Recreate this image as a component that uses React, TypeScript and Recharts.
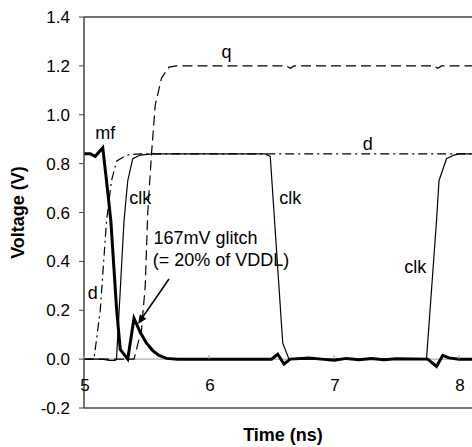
import {
  Line,
  LineChart,
  ReferenceDot,
  ReferenceLine,
  XAxis,
  YAxis,
} from "recharts";

const mf = [
  { t: 5.0, v: 0.84 }, { t: 5.05, v: 0.84 }, { t: 5.09, v: 0.83 }, { t: 5.15, v: 0.865 },
  { t: 5.18, v: 0.73 }, { t: 5.215, v: 0.565 }, { t: 5.26, v: 0.21 }, { t: 5.29, v: 0.04 },
  { t: 5.35, v: 0.0 }, { t: 5.4, v: 0.167 }, { t: 5.45, v: 0.11 }, { t: 5.5, v: 0.065 },
  { t: 5.55, v: 0.035 }, { t: 5.6, v: 0.015 }, { t: 5.66, v: 0.003 }, { t: 5.75, v: 0 },
  { t: 6.0, v: 0 }, { t: 6.3, v: 0 }, { t: 6.5, v: 0 }, { t: 6.55, v: 0.02 },
  { t: 6.6, v: -0.02 }, { t: 6.65, v: 0 }, { t: 6.8, v: 0.005 }, { t: 6.9, v: 0 },
  { t: 7.0, v: -0.005 }, { t: 7.1, v: 0.003 }, { t: 7.2, v: -0.003 }, { t: 7.3, v: 0.003 },
  { t: 7.4, v: -0.003 }, { t: 7.5, v: 0.002 }, { t: 7.75, v: 0 }, { t: 7.82, v: -0.03 },
  { t: 7.87, v: 0.015 }, { t: 7.92, v: 0.005 }, { t: 8.0, v: 0 }, { t: 8.11, v: 0 },
];

const clk = [
  { t: 5.0, v: 0 }, { t: 5.15, v: 0 }, { t: 5.2, v: -0.005 }, { t: 5.25, v: -0.005 },
  { t: 5.26, v: 0 }, { t: 5.32, v: 0.565 }, { t: 5.35, v: 0.73 }, { t: 5.39, v: 0.82 },
  { t: 5.45, v: 0.835 }, { t: 5.55, v: 0.84 }, { t: 6.45, v: 0.84 }, { t: 6.49, v: 0.83 },
  { t: 6.59, v: 0.065 }, { t: 6.64, v: 0 }, { t: 7.74, v: 0 }, { t: 7.82, v: 0.565 },
  { t: 7.84, v: 0.73 }, { t: 7.9, v: 0.82 }, { t: 7.96, v: 0.835 }, { t: 8.0, v: 0.84 },
  { t: 8.11, v: 0.84 },
];

const d = [
  { t: 5.0, v: 0 }, { t: 5.08, v: 0 }, { t: 5.13, v: 0.2 }, { t: 5.18, v: 0.565 },
  { t: 5.22, v: 0.73 }, { t: 5.26, v: 0.81 }, { t: 5.34, v: 0.835 }, { t: 5.45, v: 0.84 },
  { t: 8.11, v: 0.84 },
];

const q = [
  { t: 5.0, v: 0 }, { t: 5.4, v: 0 }, { t: 5.46, v: 0.12 }, { t: 5.49, v: 0.3 },
  { t: 5.51, v: 0.6 }, { t: 5.54, v: 0.84 }, { t: 5.57, v: 1.04 }, { t: 5.62, v: 1.15 },
  { t: 5.68, v: 1.195 }, { t: 5.74, v: 1.2 }, { t: 6.62, v: 1.2 }, { t: 6.65, v: 1.19 },
  { t: 6.68, v: 1.2 }, { t: 7.8, v: 1.2 }, { t: 7.83, v: 1.19 }, { t: 7.86, v: 1.2 },
  { t: 8.11, v: 1.2 },
];

const xTicks = [5, 6, 7, 8];
const yTicks = [-0.2, 0, 0.2, 0.4, 0.6, 0.8, 1.0, 1.2, 1.4];

const notes = [
  { t: 6.14, v: 1.26, text: "q" },
  { t: 5.17, v: 0.925, text: "mf" },
  { t: 7.27, v: 0.88, text: "d" },
  { t: 5.07, v: 0.27, text: "d" },
  { t: 5.45, v: 0.66, text: "clk" },
  { t: 6.65, v: 0.66, text: "clk" },
  { t: 7.65, v: 0.38, text: "clk" },
];

const glitch = [
  { t: 5.555, v: 0.497, text: "167mV glitch" },
  { t: 5.55, v: 0.405, text: "(= 20% of VDDL)" },
];

const arrowFrom = { t: 5.68, v: 0.328 };
const arrowTo = { t: 5.432, v: 0.144 };

const font = "Liberation Sans, Arial, sans-serif";

function Arrow(props: any) {
  const { x1, y1, x2, y2 } = props;
  const ang = Math.atan2(y2 - y1, x2 - x1);
  const len = 9;
  const w = 4;
  const bx = x2 - len * Math.cos(ang);
  const by = y2 - len * Math.sin(ang);
  const px = -Math.sin(ang) * w;
  const py = Math.cos(ang) * w;
  return (
    <g>
      <line x1={x1} y1={y1} x2={bx} y2={by} stroke="#000" strokeWidth={1.5} />
      <polygon
        points={`${x2},${y2} ${bx + px},${by + py} ${bx - px},${by - py}`}
        fill="#000"
      />
    </g>
  );
}

export default function App() {
  return (
    <div style={{ position: "absolute", left: 0, top: 0, background: "#fff" }}>
      <LineChart
        width={472}
        height={447}
        margin={{ top: 17, right: 0, bottom: 0, left: 0 }}
      >
        <XAxis
          type="number"
          dataKey="t"
          domain={[5, 8.104]}
          allowDataOverflow
          tick={false}
          tickLine={false}
          height={39}
          axisLine={{ stroke: "#444", strokeWidth: 1.5 }}
          label={{
            value: "Time (ns)",
            position: "insideBottom",
            offset: 6,
            dx: 5,
            style: { fontFamily: font, fontSize: 18, fontWeight: "bold", fill: "#000" },
          }}
        />
        <YAxis
          type="number"
          domain={[-0.2, 1.4]}
          ticks={yTicks}
          width={84}
          tickSize={5}
          tickMargin={9}
          tickFormatter={(v: number) => v.toFixed(1)}
          tick={{ fontFamily: font, fontSize: 17, fill: "#000" }}
          tickLine={{ stroke: "#444" }}
          axisLine={{ stroke: "#444", strokeWidth: 1.5 }}
          label={{
            value: "Voltage (V)",
            angle: -90,
            position: "insideLeft",
            offset: 18,
            style: {
              fontFamily: font,
              fontSize: 18,
              fontWeight: "bold",
              fill: "#000",
              textAnchor: "middle",
            },
          }}
        />
        <ReferenceLine y={1.4} stroke="#444" strokeWidth={1.5} />
        <ReferenceLine y={0} stroke="#999" strokeWidth={1} />
        {xTicks.map((t) => (
          <ReferenceDot
            key={"xt" + t}
            x={t}
            y={0}
            r={0}
            shape={(p: any) => (
              <g>
                <line x1={p.cx} y1={p.cy} x2={p.cx} y2={p.cy - 4} stroke="#999" />
                <text
                  x={p.cx + 1}
                  y={p.cy + 32}
                  textAnchor="middle"
                  fontFamily={font}
                  fontSize={17}
                  fill="#000"
                >
                  {t}
                </text>
              </g>
            )}
          />
        ))}
        <Line
          data={q}
          dataKey="v"
          type="linear"
          stroke="#000"
          strokeWidth={1.2}
          strokeDasharray="10 5"
          dot={false}
          isAnimationActive={false}
        />
        <Line
          data={d}
          dataKey="v"
          type="linear"
          stroke="#000"
          strokeWidth={1.2}
          strokeDasharray="9 4 2 4"
          dot={false}
          isAnimationActive={false}
        />
        <Line
          data={clk}
          dataKey="v"
          type="linear"
          stroke="#000"
          strokeWidth={1.2}
          dot={false}
          isAnimationActive={false}
        />
        <Line
          data={mf}
          dataKey="v"
          type="linear"
          stroke="#000"
          strokeWidth={3}
          dot={false}
          isAnimationActive={false}
        />
        <ReferenceLine
          segment={[
            { x: arrowFrom.t, y: arrowFrom.v },
            { x: arrowTo.t, y: arrowTo.v },
          ]}
          shape={Arrow}
        />
        {notes.map((n, i) => (
          <ReferenceDot
            key={"n" + i}
            x={n.t}
            y={n.v}
            r={0}
            shape={(p: any) => (
              <text
                x={p.cx}
                y={p.cy}
                dy="0.35em"
                textAnchor="middle"
                fontFamily={font}
                fontSize={18}
                fill="#000"
              >
                {n.text}
              </text>
            )}
          />
        ))}
        {glitch.map((n, i) => (
          <ReferenceDot
            key={"g" + i}
            x={n.t}
            y={n.v}
            r={0}
            shape={(p: any) => (
              <text
                x={p.cx}
                y={p.cy}
                dy="0.35em"
                textAnchor="start"
                fontFamily={font}
                fontSize={18}
                fill="#000"
              >
                {n.text}
              </text>
            )}
          />
        ))}
      </LineChart>
    </div>
  );
}
